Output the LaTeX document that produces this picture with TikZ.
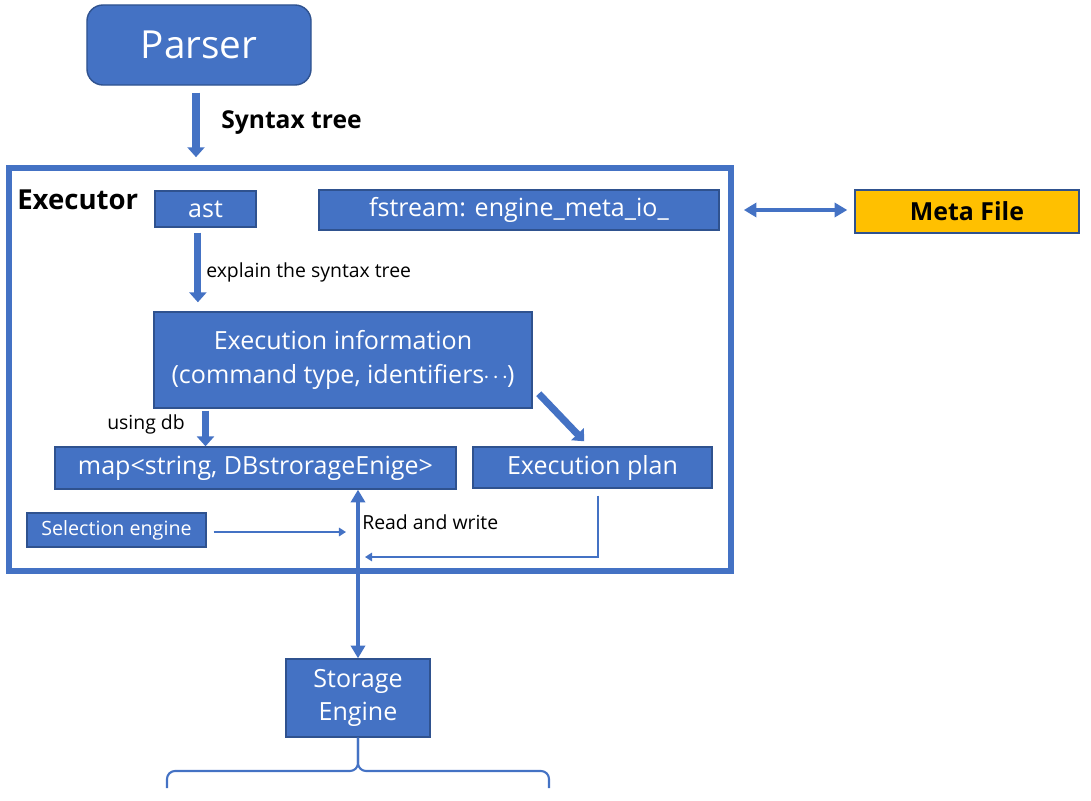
\documentclass[tikz,border=0pt]{standalone}
\usepackage{fontspec}
\setmainfont{Open Sans}
\usepackage{xcolor}
\usetikzlibrary{positioning,calc,fit,arrows.meta}
\definecolor{boxblue}{HTML}{4472C4}
\definecolor{boxedge}{HTML}{2F528F}
\definecolor{metayellow}{HTML}{FFC000}

\begin{document}
\begin{tikzpicture}[x=0.025cm, y=-0.025cm,
    box/.style={rectangle, draw=boxedge, line width=1pt, fill=boxblue, text=white, align=center, inner sep=0pt, font=\fontsize{17.8}{24}\selectfont},
    parserbox/.style={box, rounded corners=0.4cm, font=\fontsize{27.5}{30}\selectfont},
    metabox/.style={box, fill=metayellow, text=black, font=\bfseries\fontsize{17.7}{20}\selectfont},
    frame/.style={draw=boxblue, line width=4pt, inner sep=0pt},
    header/.style={font=\bfseries\fontsize{19.6}{22}\selectfont, inner sep=0pt},
    note/.style={font=\fontsize{13.8}{16}\selectfont, inner sep=0pt},
    fatarrow/.style={draw=boxblue, line width=5pt, -{Triangle[width=12pt,length=7pt]}},
    dblarrow/.style={draw=boxblue, line width=2.8pt, {Triangle[width=10pt,length=9pt]}-{Triangle[width=10pt,length=9pt]}},
    thinarrow/.style={draw=boxblue, line width=2pt, -{Triangle[width=6pt,length=5pt]}},
    brace/.style={draw=boxblue, line width=1.5pt, rounded corners=0.2cm}
]
    \useasboundingbox (0,0) rectangle (1091,801);

    % boxes
    \node[parserbox, minimum width=5.6cm, minimum height=2cm] (parser) at (199,45) {Parser};
    \node[frame, fit={(9,168) (731,571)}] (executor) {};
    \node[header, anchor=west] (exectitle) at (17,200) {Executor};
    \node[box, minimum width=2.525cm, minimum height=0.9cm] (ast) at (205.5,209) {ast};
    \node[box, minimum width=10cm, minimum height=1cm] (fstream) at (519,210) {fstream: engine\_meta\_io\_};
    \node[metabox, minimum width=5.6cm, minimum height=1.075cm] (meta) at (967,211.5) {Meta File};
    \node[box, minimum width=9.45cm, minimum height=2.4cm] (info) at (343,360)
        {Execution information\\(command type, identifiers{\kern-1pt$\cdot\kern-2pt\cdot\kern-2pt\cdot$\kern-1pt})};
    \node[box, minimum width=10.025cm, minimum height=1.05cm] (map) at (255.5,468) {map<string, DBstrorageEnige>};
    \node[box, minimum width=5.975cm, minimum height=1.025cm] (plan) at (592.5,467.5) {Execution plan};
    \node[box, font=\fontsize{14}{16}\selectfont, minimum width=4.475cm, minimum height=0.85cm] (selection) at (116.5,530) {Selection engine};
    \node[box, minimum width=3.6cm, minimum height=1.95cm] (storage) at (358,698) {Storage\\Engine};

    % connectors
    \draw[fatarrow, shorten <=0.175cm, shorten >=0.2cm] ([xshift=-0.075cm]parser.south) -- ([xshift=-0.075cm]parser.south |- executor.north);
    \node[header, font=\bfseries\fontsize{17.5}{20}\selectfont, anchor=west] (syntax) at (221,123) {Syntax tree};

    \draw[fatarrow, shorten <=0.125cm, shorten >=0.225cm] ([xshift=-0.19cm]ast.south) -- ([xshift=-0.19cm]ast.south |- info.north);
    \node[note, anchor=west] (explain) at (206,272) {explain the syntax tree};

    \draw[fatarrow, shorten <=0.05cm] (info.south -| ast.south) -- (map.north -| ast.south);
    \node[note, anchor=east] (usingdb) at (185,424) {using db};

    \draw[fatarrow] ($(info.south east)+(6,-15)$) -- ($(plan.north west)+(112,-5)$);

    \draw[dblarrow] ($(executor.east |- meta.west)+(10,-1.5)$) -- ($(meta.west)+(-7,-1.5)$);

    \draw[dblarrow] (storage.north) -- (storage.north |- map.south);
    \node[note, anchor=west] (readwrite) at (362,522) {Read and write};

    \draw[thinarrow] ($(selection.east)+(7,2)$) -- ($(selection.east -| storage.north)+(-12,2)$);

    \coordinate (planback) at (365,557);
    \draw[thinarrow, line width=1.8pt] ($(plan.south)+(5.5,7)$) |- (planback);

    % brace under the storage engine
    \coordinate (braceleft) at (167,788);
    \coordinate (braceright) at (549,788);
    \coordinate (bracemid) at (358,771);
    \draw[brace] (braceleft) |- (bracemid) -- (storage.south);
    \draw[brace] (braceright) |- (bracemid) -- (storage.south);
\end{tikzpicture}
\end{document}
